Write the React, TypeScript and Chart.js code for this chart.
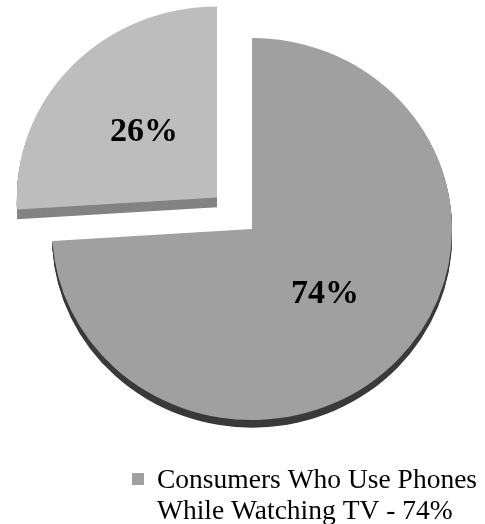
import React, { useEffect, useRef } from 'react';
import { Chart, registerables } from 'chart.js';

Chart.register(...registerables);

const categories = [
  'Consumers Who Use Phones While Watching TV',
  "Consumers Who Don't Use Phones While Watching TV",
];
const values = [74, 26];
const valueLabels = ['74%', '26%'];
const legendLines = ['Consumers Who Use Phones', 'While Watching TV - 74%'];
const faceColors = ['#a0a0a0', '#bdbdbd'];
const sideColors = ['#3a3a3a', '#838383'];
const offsets = [0, 192];
const depths = [8, 10];

const TILT = 0.955;
const OFFSET_DIVISOR = 4;

const pie3d = {
  id: 'pie3d',
  beforeDatasetsDraw(chart: any) {
    const ctx = chart.ctx;
    const arcs = chart.getDatasetMeta(0).data;
    ctx.save();
    if (!arcs.length) return;
    const cx = arcs[0].x;
    const cy = arcs[0].y;
    ctx.translate(cx, cy);
    ctx.scale(1, TILT);
    ctx.translate(-cx, -cy);
    arcs.forEach((arc: any, i: number) => {
      const orig = arc.options;
      arc.options = { ...orig, backgroundColor: sideColors[i], borderWidth: 0 };
      for (let d = depths[i]; d >= 1; d--) {
        ctx.save();
        ctx.translate(0, d);
        arc.draw(ctx);
        ctx.restore();
      }
      arc.options = orig;
    });
  },
  afterDatasetsDraw(chart: any) {
    const ctx = chart.ctx;
    ctx.restore();
    const arcs = chart.getDatasetMeta(0).data;
    if (!arcs.length) return;
    const cy = arcs[0].y;
    ctx.save();
    ctx.font = 'bold 34px "Liberation Serif"';
    ctx.fillStyle = '#000000';
    ctx.textAlign = 'center';
    ctx.textBaseline = 'middle';
    arcs.forEach((arc: any, i: number) => {
      const half = (arc.startAngle + arc.endAngle) / 2;
      const r = (arc.innerRadius + arc.outerRadius) / 2 + (arc.options.offset || 0) / OFFSET_DIVISOR;
      const x = arc.x + Math.cos(half) * r;
      const y = arc.y + Math.sin(half) * r;
      ctx.fillText(valueLabels[i], x, cy + (y - cy) * TILT);
    });
    ctx.restore();
  },
  afterDraw(chart: any) {
    const ctx = chart.ctx;
    const boxX = 132;
    const boxY = 473;
    const box = 12;
    const textX = 157;
    const base1 = 488;
    const lineGap = 31;
    ctx.save();
    ctx.fillStyle = faceColors[0];
    ctx.fillRect(boxX, boxY, box, box);
    ctx.fillStyle = '#000000';
    ctx.font = '27.5px "Liberation Serif"';
    ctx.textAlign = 'left';
    ctx.textBaseline = 'alphabetic';
    legendLines.forEach((line, i) => ctx.fillText(line, textX, base1 + i * lineGap));
    ctx.restore();
  },
};

export default function App() {
  const ref = useRef<HTMLCanvasElement | null>(null);
  useEffect(() => {
    if (!ref.current) return;
    const chart = new Chart(ref.current, {
      type: 'pie',
      data: {
        labels: categories,
        datasets: [
          {
            data: values,
            backgroundColor: faceColors,
            borderWidth: 0,
            offset: offsets,
            clip: false,
          } as any,
        ],
      },
      options: {
        animation: false,
        responsive: false,
        radius: 200,
        layout: { padding: { left: 20, right: 1, top: 0, bottom: 66 } },
        plugins: {
          tooltip: { enabled: false },
          legend: { display: false },
        },
      } as any,
      plugins: [pie3d],
    });
    return () => chart.destroy();
  }, []);
  return (
    <div style={{ position: 'absolute', left: 0, top: 0, width: 485, height: 524, background: '#ffffff' }}>
      <canvas ref={ref} width={485} height={524} />
    </div>
  );
}
